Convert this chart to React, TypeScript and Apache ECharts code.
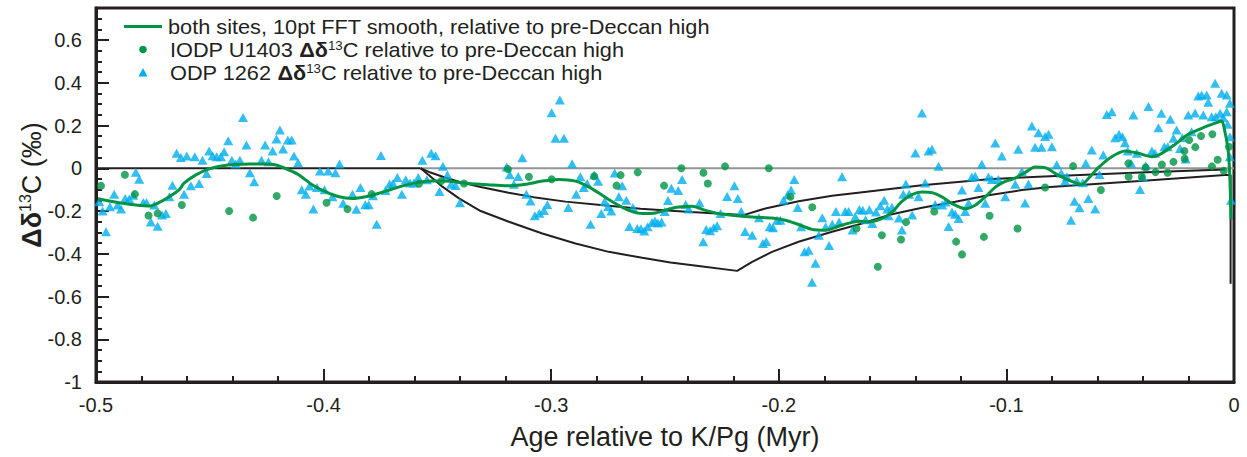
import React, { useEffect, useRef } from 'react';
import * as echarts from 'echarts';

// ---------- data (Age relative to K/Pg in Myr, Δδ13C in ‰) ----------
const ODP1262: [number, number][] = [
  [-0.4986,-0.157],[-0.4971,-0.200],[-0.4956,-0.297],[-0.4939,-0.180],[-0.4920,-0.122],[-0.4905,-0.172],[-0.4890,-0.191],[-0.4872,-0.141],[-0.4854,-0.144],[-0.4836,-0.126],
  [-0.4825,-0.019],[-0.4810,-0.051],[-0.4792,-0.160],[-0.4778,-0.160],[-0.4759,-0.251],[-0.4744,-0.172],[-0.4729,-0.271],[-0.4710,-0.219],[-0.4693,-0.211],[-0.4678,-0.133],
  [-0.4664,-0.079],[-0.4646,0.070],[-0.4627,0.051],[-0.4613,-0.121],[-0.4601,0.057],[-0.4583,-0.082],[-0.4566,0.054],[-0.4547,-0.071],[-0.4532,0.038],[-0.4514,-0.024],
  [-0.4503,0.081],[-0.4488,0.059],[-0.4470,0.054],[-0.4451,0.054],[-0.4437,0.077],[-0.4419,0.129],[-0.4403,0.038],[-0.4386,0.020],[-0.4368,0.038],[-0.4354,0.238],
  [-0.4339,0.109],[-0.4324,-0.021],[-0.4305,-0.063],[-0.4273,0.038],[-0.4257,0.109],[-0.4242,0.030],[-0.4224,0.081],[-0.4207,0.137],[-0.4192,0.179],[-0.4178,0.090],
  [-0.4157,0.132],[-0.4140,0.132],[-0.4130,0.057],[-0.4112,0.026],[-0.4096,-0.100],[-0.4078,-0.121],[-0.4062,-0.083],[-0.4045,-0.191],[-0.4029,-0.090],[-0.4016,-0.013],
  [-0.3996,-0.100],[-0.3980,-0.013],[-0.3961,-0.133],[-0.3948,-0.021],[-0.3930,0.020],[-0.3914,-0.164],[-0.3873,-0.122],[-0.3856,-0.192],[-0.3838,-0.090],[-0.3817,-0.171],
  [-0.3802,-0.171],[-0.3783,-0.129],[-0.3767,-0.262],[-0.3748,0.060],[-0.3728,-0.104],[-0.3710,-0.073],[-0.3695,-0.071],[-0.3676,-0.043],[-0.3656,-0.122],[-0.3639,-0.054],
  [-0.3620,-0.069],[-0.3604,-0.069],[-0.3584,-0.043],[-0.3566,0.038],[-0.3546,-0.054],[-0.3527,0.070],[-0.3508,0.059],[-0.3491,-0.109],[-0.3476,0.010],[-0.3456,-0.032],
  [-0.3440,-0.075],[-0.3420,-0.081],[-0.3401,-0.161],
  [-0.3196,0.006],[-0.3182,-0.030],[-0.3164,-0.075],[-0.3145,-0.038],[-0.3127,0.049],[-0.3109,-0.122],[-0.3091,-0.153],[-0.3072,-0.222],[-0.3052,-0.210],[-0.3032,-0.198],
  [-0.3017,-0.171],[-0.2998,0.260],[-0.2981,0.140],[-0.2962,0.319],[-0.2944,0.140],[-0.2925,-0.184],[-0.2908,0.021],[-0.2890,-0.122],[-0.2872,-0.040],[-0.2857,-0.090],
  [-0.2842,-0.071],[-0.2827,-0.262],[-0.2811,-0.032],[-0.2794,-0.061],[-0.2780,-0.211],[-0.2765,-0.155],[-0.2750,-0.180],[-0.2736,-0.200],[-0.2721,-0.022],[-0.2703,-0.133],
  [-0.2688,-0.082],[-0.2670,-0.150],[-0.2656,-0.272],[-0.2641,-0.184],[-0.2622,-0.282],[-0.2606,-0.283],[-0.2591,-0.293],[-0.2576,-0.274],[-0.2557,-0.254],[-0.2544,-0.247],
  [-0.2531,-0.256],[-0.2515,-0.251],[-0.2501,-0.202],[-0.2487,-0.151],[-0.2472,-0.093],[-0.2442,-0.104],[-0.2425,-0.052],[-0.2409,-0.169],[-0.2396,-0.190],[-0.2348,-0.161],
  [-0.2332,-0.344],[-0.2319,-0.286],[-0.2302,-0.292],[-0.2286,-0.278],[-0.2271,-0.269],[-0.2256,-0.211],[-0.2227,-0.132],[-0.2195,-0.082],[-0.2180,-0.141],[-0.2165,-0.202],
  [-0.2148,-0.296],[-0.2117,-0.313],[-0.2087,-0.231],[-0.2070,-0.352],[-0.2055,-0.342],[-0.2040,-0.274],[-0.2025,-0.278],[-0.2008,-0.243],[-0.1993,-0.243],[-0.1979,-0.150],
  [-0.1961,-0.124],[-0.1946,-0.102],[-0.1932,-0.052],[-0.1917,-0.184],[-0.1902,-0.274],[-0.1887,-0.391],[-0.1869,-0.383],[-0.1854,-0.533],[-0.1839,-0.444],[-0.1824,-0.313],
  [-0.1809,-0.232],[-0.1794,-0.274],[-0.1779,-0.361],[-0.1765,-0.262],[-0.1749,-0.202],[-0.1735,-0.251],[-0.1722,-0.040],[-0.1708,-0.202],[-0.1693,-0.202],[-0.1676,-0.289],
  [-0.1664,-0.227],[-0.1646,-0.193],[-0.1631,-0.196],[-0.1619,-0.241],[-0.1602,-0.194],[-0.1589,-0.258],[-0.1573,-0.204],[-0.1554,-0.175],[-0.1537,-0.149],[-0.1523,-0.191],
  [-0.1518,-0.222],[-0.1503,-0.182],[-0.1472,-0.233],[-0.1459,-0.289],[-0.1453,-0.121],[-0.1442,-0.074],[-0.1427,-0.121],[-0.1414,-0.219],[-0.1400,0.071],[-0.1386,-0.133],
  [-0.1371,0.259],[-0.1357,-0.069],[-0.1342,0.081],[-0.1327,0.089],[-0.1313,-0.170],[-0.1298,0.010],[-0.1282,-0.172],[-0.1267,-0.158],[-0.1254,-0.272],[-0.1239,-0.204],
  [-0.1225,-0.215],[-0.1210,-0.235],[-0.1195,-0.102],[-0.1181,-0.202],[-0.1166,-0.164],[-0.1152,-0.041],[-0.1137,-0.037],[-0.1123,-0.090],[-0.1108,0.019],[-0.1093,-0.164],
  [-0.1079,-0.041],[-0.1064,-0.052],[-0.1049,0.118],[-0.1035,-0.052],[-0.1020,0.057],[-0.1005,-0.133],[-0.0961,-0.075],[-0.0948,0.089],[-0.0932,-0.015],[-0.0918,-0.163],
  [-0.0903,-0.073],[-0.0888,0.198],[-0.0874,0.098],[-0.0859,0.166],[-0.0846,0.098],[-0.0830,0.149],[-0.0815,0.159],[-0.0800,0.101],[-0.0779,0.016],[-0.0759,-0.022],
  [-0.0742,-0.060],[-0.0734,-0.040],[-0.0716,-0.243],[-0.0701,-0.154],[-0.0691,-0.060],[-0.0679,-0.185],[-0.0664,-0.068],[-0.0651,0.023],[-0.0640,-0.141],[-0.0625,0.085],
  [-0.0610,-0.191],[-0.0591,-0.029],[-0.0574,0.062],[-0.0559,0.252],[-0.0537,0.265],[-0.0522,0.143],[-0.0505,0.159],[-0.0490,0.148],[-0.0479,0.119],[-0.0467,0.081],
  [-0.0452,0.023],[-0.0442,0.249],[-0.0427,0.070],[-0.0413,-0.099],[-0.0401,-0.040],[-0.0388,0.012],[-0.0376,0.289],[-0.0361,0.081],[-0.0347,0.070],[-0.0332,0.190],
  [-0.0319,0.257],[-0.0306,0.101],[-0.0291,0.101],[-0.0280,0.230],[-0.0266,0.140],[-0.0252,0.179],[-0.0237,0.093],[-0.0227,0.143],[-0.0212,0.043],[-0.0201,0.249],
  [-0.0186,0.171],[-0.0171,0.259],[-0.0157,0.338],[-0.0142,0.343],[-0.0135,0.249],[-0.0120,0.343],[-0.0113,0.309],[-0.0098,0.241],[-0.0083,0.398],[-0.0080,0.241],
  [-0.0061,0.257],[-0.0054,0.351],[-0.0047,0.237],[-0.0032,0.343],[-0.0032,0.265],[-0.0028,0.206],[-0.0018,0.304],[-0.0018,0.148],[-0.0018,0.054],[-0.0013,-0.149],
];

const U1403: [number, number][] = [
  [-0.4978,-0.082],[-0.4873,-0.030],[-0.4829,-0.121],[-0.4769,-0.221],[-0.4729,-0.211],[-0.4623,-0.172],[-0.4415,-0.200],[-0.4310,-0.231],[-0.4206,-0.130],[-0.3987,-0.161],
  [-0.3895,-0.191],[-0.3789,-0.121],[-0.3581,-0.072],[-0.3483,-0.060],[-0.3383,-0.071],[-0.3190,-0.004],[-0.3098,-0.040],[-0.2998,-0.051],[-0.2811,-0.037],[-0.2713,-0.081],
  [-0.2695,-0.032],[-0.2620,-0.019],[-0.2504,-0.081],[-0.2428,0.000],[-0.2331,-0.021],[-0.2312,-0.071],[-0.2236,0.009],[-0.2044,0.000],[-0.1949,-0.133],[-0.1853,-0.182],
  [-0.1659,-0.282],[-0.1565,-0.461],[-0.1547,-0.313],[-0.1463,-0.333],[-0.1441,-0.252],[-0.1317,-0.202],[-0.1221,-0.343],[-0.1195,-0.403],[-0.1099,-0.321],[-0.1074,-0.222],
  [-0.0951,-0.282],[-0.0830,-0.090],[-0.0707,0.010],[-0.0585,-0.102],[-0.0463,-0.040],[-0.0464,0.023],[-0.0405,-0.040],[-0.0388,0.004],[-0.0345,-0.018],[-0.0317,0.018],
  [-0.0292,-0.021],[-0.0266,0.030],[-0.0218,0.081],[-0.0217,0.045],[-0.0197,0.132],[-0.0170,0.099],[-0.0145,0.151],[-0.0095,0.159],[-0.0097,0.009],[-0.0072,0.040],
  [-0.0045,-0.012],[-0.0022,0.101],
];

const FFT_SMOOTH: [number, number][] = [
  [-0.4991,-0.143],[-0.4942,-0.153],[-0.4883,-0.164],[-0.4825,-0.172],[-0.4766,-0.177],[-0.4730,-0.164],[-0.4678,-0.133],[-0.4635,-0.101],[-0.4613,-0.070],[-0.4561,-0.031],
  [-0.4503,-0.003],[-0.4444,0.012],[-0.4386,0.018],[-0.4327,0.020],[-0.4268,0.020],[-0.4210,0.015],[-0.4152,-0.008],[-0.4108,-0.031],[-0.4049,-0.078],[-0.3990,-0.110],
  [-0.3932,-0.133],[-0.3873,-0.141],[-0.3815,-0.133],[-0.3757,-0.117],[-0.3698,-0.097],[-0.3640,-0.079],[-0.3581,-0.066],[-0.3522,-0.060],[-0.3464,-0.060],[-0.3405,-0.066],
  [-0.3332,-0.074],[-0.3259,-0.078],[-0.3186,-0.082],[-0.3113,-0.075],[-0.3039,-0.060],[-0.2966,-0.052],[-0.2893,-0.060],[-0.2835,-0.087],[-0.2776,-0.126],[-0.2718,-0.165],
  [-0.2659,-0.197],[-0.2600,-0.212],[-0.2542,-0.209],[-0.2476,-0.189],[-0.2439,-0.181],[-0.2381,-0.178],[-0.2322,-0.197],[-0.2264,-0.212],[-0.2205,-0.220],[-0.2117,-0.228],
  [-0.2030,-0.233],[-0.1971,-0.243],[-0.1913,-0.263],[-0.1854,-0.286],[-0.1796,-0.290],[-0.1737,-0.271],[-0.1679,-0.253],[-0.1642,-0.248],[-0.1606,-0.251],[-0.1547,-0.236],
  [-0.1503,-0.205],[-0.1459,-0.155],[-0.1415,-0.123],[-0.1371,-0.111],[-0.1327,-0.114],[-0.1283,-0.134],[-0.1239,-0.165],[-0.1181,-0.189],[-0.1137,-0.173],[-0.1093,-0.134],
  [-0.1049,-0.088],[-0.1005,-0.061],[-0.0961,-0.046],[-0.0918,-0.020],[-0.0874,0.006],[-0.0830,0.003],[-0.0771,-0.033],[-0.0713,-0.061],[-0.0669,-0.076],[-0.0640,-0.048],
  [-0.0596,0.003],[-0.0537,0.054],[-0.0479,0.081],[-0.0420,0.070],[-0.0361,0.054],[-0.0317,0.070],[-0.0259,0.112],[-0.0201,0.159],[-0.0142,0.187],[-0.0083,0.211],
  [-0.0054,0.221],[-0.0040,0.171],[-0.0025,0.078],[-0.0018,-0.047],[-0.0013,-0.240],
];

const MODEL_UPPER: [number, number][] = [
  [-0.3574,0],[-0.3530,-0.020],[-0.3464,-0.044],[-0.3398,-0.065],[-0.3310,-0.088],[-0.3187,-0.114],[-0.3077,-0.135],[-0.2937,-0.156],
  [-0.2783,-0.172],[-0.2608,-0.189],[-0.2388,-0.205],[-0.2155,-0.219],[-0.2059,-0.188],[-0.1913,-0.154],[-0.1766,-0.129],[-0.1642,-0.113],
  [-0.1371,-0.079],[-0.1079,-0.051],[-0.0808,-0.037],[-0.0413,-0.020],[-0.0040,-0.006],
];

const MODEL_LOWER: [number, number][] = [
  [-0.3574,0],[-0.3537,-0.033],[-0.3478,-0.086],[-0.3405,-0.141],[-0.3310,-0.200],[-0.3186,-0.250],[-0.3039,-0.305],[-0.2893,-0.352],
  [-0.2747,-0.391],[-0.2600,-0.419],[-0.2476,-0.441],[-0.2352,-0.457],[-0.2183,-0.480],[-0.2117,-0.438],[-0.2030,-0.391],[-0.1913,-0.344],
  [-0.1766,-0.297],[-0.1642,-0.261],[-0.1518,-0.219],[-0.1371,-0.185],[-0.1225,-0.157],[-0.1079,-0.126],[-0.0932,-0.102],[-0.0808,-0.088],
  [-0.0413,-0.059],[-0.0040,-0.031],[-0.0015,-0.031],[-0.0015,-0.540],
];

const PRE_DECCAN_BASE: [number, number][] = [[-0.5, 0], [-0.3574, 0]];
const ZERO_REFERENCE: [number, number][] = [[-0.3574, 0], [0, 0]];

const X_RANGE = [-0.5, 0];
const Y_RANGE = [-1, 0.75];

const LEGEND_LINE = 'both sites, 10pt FFT smooth, relative to pre-Deccan high';
const LEGEND_U1403 = 'IODP U1403 {b|Δδ}{sup|13}C relative to pre-Deccan high';
const LEGEND_ODP = 'ODP 1262 {b|Δδ}{sup|13}C relative to pre-Deccan high';
const X_TITLE = 'Age relative to K/Pg (Myr)';
const Y_TITLE = '{b|Δδ}{sup|13}C (‰)';

// ---------- styling ----------
const FONT = '"Liberation Sans", Arial, Helvetica, sans-serif';
const INK = '#231f20';
const GREEN = '#009444';
const CYAN = '#00aeef';
const GRAY = '#939598';

const fmt = (v: number) => String(Math.round(v * 100) / 100);

export default function App() {
  const ref = useRef<HTMLDivElement>(null);

  useEffect(() => {
    if (!ref.current) return;
    const chart = echarts.init(ref.current, undefined, { renderer: 'svg' });

    const legendFont = 20.4;
    const legendStretch = 1.065;
    const richLegend = {
      b: { fontWeight: 'bold', fontSize: legendFont, fontFamily: FONT, fill: INK, lineHeight: 20 },
      sup: { fontSize: 12.5, fontFamily: FONT, fill: INK, verticalAlign: 'top', lineHeight: 11 },
    };
    const rowY = [26.5, 49.5, 72.5];

    const majorTick = { show: true, inside: true, length: 13, lineStyle: { color: INK, width: 2 } };
    const minorTick = { show: true, inside: true, length: 6, lineStyle: { color: INK, width: 2 } };

    const option: any = {
      animation: false,
      backgroundColor: '#ffffff',
      textStyle: { fontFamily: FONT },
      grid: { left: 96, right: 13, top: 8, bottom: 75, show: true, borderColor: INK, borderWidth: 3, backgroundColor: 'transparent' },
      xAxis: [
        {
          type: 'value', min: X_RANGE[0], max: X_RANGE[1], interval: 0.1, position: 'bottom',
          axisLine: { show: true, onZero: false, lineStyle: { color: INK, width: 3 } },
          axisTick: majorTick,
          axisLabel: { color: INK, fontSize: 20, fontFamily: FONT, margin: 13, formatter: fmt },
          splitLine: { show: false },
          name: X_TITLE, nameLocation: 'middle', nameGap: 41,
          nameTextStyle: { fontSize: 27, color: INK, fontFamily: FONT },
        },
        {
          type: 'value', min: X_RANGE[0], max: X_RANGE[1], interval: 0.02, position: 'bottom',
          axisLine: { show: false, onZero: false }, axisTick: minorTick, axisLabel: { show: false }, splitLine: { show: false },
        },
      ],
      yAxis: [
        {
          type: 'value', min: Y_RANGE[0], max: Y_RANGE[1], interval: 0.2, position: 'left',
          axisLine: { show: true, onZero: false, lineStyle: { color: INK, width: 3 } },
          axisTick: majorTick,
          axisLabel: { color: INK, fontSize: 20, fontFamily: FONT, margin: 14, formatter: fmt, showMaxLabel: false },
          splitLine: { show: false },
        },
        {
          type: 'value', min: Y_RANGE[0], max: Y_RANGE[1], interval: 0.05, position: 'left',
          axisLine: { show: false, onZero: false }, axisTick: minorTick, axisLabel: { show: false }, splitLine: { show: false },
        },
      ],
      series: [
        { type: 'line', name: 'pre-Deccan base', data: PRE_DECCAN_BASE, symbol: 'none', lineStyle: { color: INK, width: 2 }, z: 1 },
        { type: 'line', name: 'zero', data: ZERO_REFERENCE, symbol: 'none', lineStyle: { color: GRAY, width: 2 }, z: 1 },
        { type: 'line', name: 'model upper', data: MODEL_UPPER, symbol: 'none', lineStyle: { color: INK, width: 2 }, z: 2 },
        { type: 'line', name: 'model lower', data: MODEL_LOWER, symbol: 'none', lineStyle: { color: INK, width: 2 }, z: 2 },
        { type: 'scatter', name: 'ODP 1262', data: ODP1262, symbol: 'triangle', symbolSize: [10, 9], itemStyle: { color: CYAN }, z: 3 },
        { type: 'scatter', name: 'IODP U1403', data: U1403, symbol: 'circle', symbolSize: 8, itemStyle: { color: GREEN }, z: 4 },
        { type: 'line', name: 'FFT smooth', data: FFT_SMOOTH, symbol: 'none', smooth: 0.25, lineStyle: { color: GREEN, width: 3 }, z: 5 },
      ],
      graphic: [
        { type: 'line', shape: { x1: 124, y1: rowY[0], x2: 162, y2: rowY[0] }, style: { stroke: GREEN, lineWidth: 3 } },
        { type: 'text', x: 168, y: rowY[0], scaleX: legendStretch, style: { text: LEGEND_LINE, fontSize: legendFont, fontFamily: FONT, fill: INK, verticalAlign: 'middle', lineHeight: 20 } },
        { type: 'circle', shape: { cx: 143, cy: rowY[1], r: 3.8 }, style: { fill: GREEN } },
        { type: 'text', x: 170, y: rowY[1], scaleX: legendStretch, style: { text: LEGEND_U1403, fontSize: legendFont, fontFamily: FONT, fill: INK, verticalAlign: 'middle', lineHeight: 20, rich: richLegend } },
        { type: 'polygon', shape: { points: [[143, rowY[2] - 4.5], [138.5, rowY[2] + 4], [147.5, rowY[2] + 4]] }, style: { fill: CYAN } },
        { type: 'text', x: 170, y: rowY[2], scaleX: legendStretch, style: { text: LEGEND_ODP, fontSize: legendFont, fontFamily: FONT, fill: INK, verticalAlign: 'middle', lineHeight: 20, rich: richLegend } },
        {
          type: 'text', x: 32, y: 185, rotation: Math.PI / 2,
          style: {
            text: Y_TITLE, fontSize: 27, fontFamily: FONT, fill: INK, align: 'center', verticalAlign: 'middle', lineHeight: 30,
            rich: {
              b: { fontWeight: 'bold', fontSize: 27, fontFamily: FONT, fill: INK, lineHeight: 30 },
              sup: { fontSize: 16, fontFamily: FONT, fill: INK, verticalAlign: 'top', lineHeight: 16 },
            },
          },
        },
      ],
    };

    chart.setOption(option);
    return () => chart.dispose();
  }, []);

  return <div ref={ref} style={{ position: 'absolute', left: 0, top: 0, width: 1247, height: 457 }} />;
}
